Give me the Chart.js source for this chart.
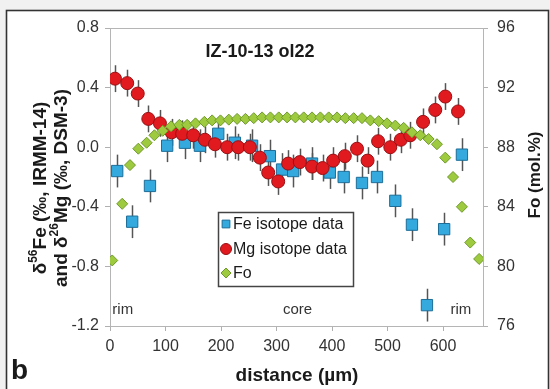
<!DOCTYPE html>
<html><head><meta charset="utf-8">
<script src="https://cdn.jsdelivr.net/npm/chart.js@4/dist/chart.umd.min.js"></script>
<style>html,body{margin:0;padding:0;background:#fff}#wrap{width:550px;height:389px;position:relative}</style>
</head><body><div id="wrap"><canvas id="c" width="550" height="389"></canvas></div>
<script>
// ---- data ----
const feDist = [13, 40, 72, 103, 135, 162, 195, 225, 256, 288, 310, 330, 364, 396, 421, 454, 481, 514, 544, 571, 602, 634];
const feVal  = [-0.16, -0.50, -0.26, 0.01, 0.03, 0.01, 0.09, 0.03, 0.01, -0.06, -0.15, -0.16, -0.11, -0.17, -0.20, -0.24, -0.20, -0.36, -0.52, -1.06, -0.55, -0.05];
const feErr  = 0.11;

const mgDist = [9, 31, 50, 69, 90, 111, 130, 150, 171, 189, 211, 231, 252, 270, 285, 303, 321, 342, 364, 383, 402, 423, 445, 464, 483, 505, 524, 541, 564, 586, 604, 627];
const mgVal  = [0.46, 0.43, 0.36, 0.19, 0.16, 0.10, 0.09, 0.08, 0.05, 0.02, 0.0, 0.0, 0.0, -0.07, -0.17, -0.23, -0.11, -0.10, -0.13, -0.14, -0.09, -0.06, -0.01, -0.09, 0.04, 0.0, 0.05, 0.08, 0.17, 0.25, 0.34, 0.24];
const mgErr  = 0.09;

const foDist = [4, 22, 36, 51, 66, 80, 95, 110, 125, 139, 154, 170, 184, 199, 214, 229, 244, 259, 274, 289, 304, 319, 334, 349, 364, 379, 394, 409, 424, 439, 454, 469, 484, 499, 514, 529, 544, 559, 574, 589, 604, 618, 634, 649, 665];
const foVal  = [80.4, 84.2, 86.8, 87.9, 88.3, 88.8, 89.1, 89.4, 89.5, 89.5, 89.6, 89.7, 89.8, 89.8, 89.85, 89.9, 89.9, 89.95, 90.0, 90.0, 90.0, 90.0, 90.0, 90.0, 90.0, 90.0, 90.0, 90.0, 89.95, 89.95, 89.95, 89.8, 89.75, 89.6, 89.45, 89.3, 89.0, 88.8, 88.55, 88.2, 87.3, 86.0, 84.0, 81.6, 80.5];

const xTicks  = [0, 100, 200, 300, 400, 500, 600];
const seriesNames = ['Fe isotope data', 'Mg isotope data', 'Fo'];
const chartTitle = 'IZ-10-13 ol22';
const zoneLabels = [['rim', 23], ['core', 338], ['rim', 632]];

// ---- styling ----
const FONT = '"Liberation Sans", Arial, Helvetica, sans-serif';
const C_BLUE = '#33a9dd', C_BLUE_B = '#1d6d98';
const C_RED = '#e11a1f', C_RED_B = '#9a1014';
const C_GREEN = '#9dca3e', C_GREEN_B = '#6f9a2a';

const pts = (xs, ys) => xs.map((x, i) => ({x, y: ys[i]}));

const errorBars = {
  id: 'errorBars',
  beforeDatasetsDraw(chart) {
    const {ctx} = chart, xs = chart.scales.x, ys = chart.scales.y;
    ctx.save();
    ctx.strokeStyle = '#555';
    ctx.lineWidth = 1.5;
    const draw = (d, v, e) => {
      d.forEach((x, i) => {
        const px = Math.round(xs.getPixelForValue(x)) + 0.5;
        ctx.beginPath();
        ctx.moveTo(px, ys.getPixelForValue(v[i] + e));
        ctx.lineTo(px, ys.getPixelForValue(v[i] - e));
        ctx.stroke();
      });
    };
    draw(feDist, feVal, feErr);
    draw(mgDist, mgVal, mgErr);
    ctx.restore();
  }
};

function richText(ctx, parts, cx, cy, size) {
  let total = 0;
  const fonts = parts.map(([t, sup]) => `bold ${sup ? Math.round(size * 0.62) : size}px ${FONT}`);
  parts.forEach(([t], i) => { ctx.font = fonts[i]; total += ctx.measureText(t).width; });
  let x = cx - total / 2;
  parts.forEach(([t, sup], i) => {
    ctx.font = fonts[i];
    ctx.fillText(t, x, cy + (sup ? -size * 0.38 : 0));
    x += ctx.measureText(t).width;
  });
}

const decor = {
  id: 'decor',
  beforeDraw(chart) {
    const {ctx, width, height} = chart;
    ctx.save();
    ctx.fillStyle = '#f1f1f1';
    ctx.fillRect(0, 0, width, height);
    ctx.fillStyle = '#ffffff';
    ctx.fillRect(7, 11, width - 9, height);
    ctx.strokeStyle = '#333';
    ctx.lineWidth = 1.6;
    ctx.strokeRect(6.5, 10.5, width - 8, height + 10);
    ctx.restore();
  },
  beforeDatasetsDraw(chart) {
    const {ctx, chartArea: a} = chart;
    ctx.save();
    ctx.strokeStyle = '#b5b5b5';
    ctx.lineWidth = 1;
    ctx.strokeRect(a.left + 0.5, a.top + 0.5, a.right - a.left, a.bottom - a.top);
    ctx.restore();
  },
  afterDraw(chart) {
    const {ctx} = chart;
    const xs = chart.scales.x;
    ctx.save();
    ctx.fillStyle = '#1a1a1a';
    ctx.textBaseline = 'middle';
    ctx.textAlign = 'center';
    ctx.font = `bold 18px ${FONT}`;
    ctx.fillText(chartTitle, 260, 52);
    ctx.font = `15px ${FONT}`;
    ctx.fillStyle = '#333';
    zoneLabels.forEach(([t, x]) => ctx.fillText(t, xs.getPixelForValue(x), 310));
    ctx.fillStyle = '#1a1a1a';
    ctx.font = `bold 19px ${FONT}`;
    ctx.fillText('distance (µm)', 297, 376);
    ctx.font = `bold 28px ${FONT}`;
    ctx.textAlign = 'left';
    ctx.fillText('b', 11, 371);
    ctx.save();
    ctx.translate(535, 175);
    ctx.rotate(-Math.PI / 2);
    ctx.textAlign = 'center';
    ctx.font = `bold 17px ${FONT}`;
    ctx.fillText('Fo (mol.%)', 0, 0);
    ctx.restore();
    ctx.save();
    ctx.rotate(-Math.PI / 2);
    ctx.textAlign = 'left';
    richText(ctx, [['δ', false], ['56', true], ['Fe (‰, IRMM-14)', false]], -188, 41, 19);
    richText(ctx, [['and δ', false], ['26', true], ['Mg (‰, DSM-3)', false]], -188, 62, 19);
    ctx.restore();
    // legend
    const lx = 218, ly = 212, lw = 135, lh = 74;
    ctx.fillStyle = '#fff';
    ctx.fillRect(lx, ly, lw, lh);
    ctx.strokeStyle = '#444';
    ctx.lineWidth = 1.5;
    ctx.strokeRect(lx + 0.5, ly + 0.5, lw, lh);
    const styles = [
      {pointStyle: 'rect', radius: 5.5, backgroundColor: C_BLUE, borderColor: C_BLUE_B, borderWidth: 1},
      {pointStyle: 'circle', radius: 5.5, backgroundColor: C_RED, borderColor: C_RED_B, borderWidth: 1},
      {pointStyle: 'rectRot', radius: 5, backgroundColor: C_GREEN, borderColor: C_GREEN_B, borderWidth: 1}
    ];
    const rows = [224, 249, 273];
    ctx.font = `16px ${FONT}`;
    ctx.textAlign = 'left';
    seriesNames.forEach((n, i) => {
      ctx.fillStyle = styles[i].backgroundColor;
      ctx.strokeStyle = styles[i].borderColor;
      ctx.lineWidth = 1;
      Chart.helpers.drawPoint(ctx, styles[i], 226, rows[i]);
      ctx.fillStyle = '#1a1a1a';
      ctx.fillText(n, 233, rows[i] + 1);
    });
    ctx.restore();
  }
};

const tickFont = {family: FONT, size: 16};
new Chart(document.getElementById('c'), {
  type: 'scatter',
  data: {
    datasets: [
      {label: seriesNames[2], data: pts(foDist, foVal), yAxisID: 'y2', pointStyle: 'rectRot', pointRadius: 5.5,
       backgroundColor: C_GREEN, borderColor: C_GREEN_B, borderWidth: 1, order: 0},
      {label: seriesNames[1], data: pts(mgDist, mgVal), yAxisID: 'y', pointStyle: 'circle', pointRadius: 6.5,
       backgroundColor: C_RED, borderColor: C_RED_B, borderWidth: 1, order: 1},
      {label: seriesNames[0], data: pts(feDist, feVal), yAxisID: 'y', pointStyle: 'rect', pointRadius: 8,
       backgroundColor: C_BLUE, borderColor: C_BLUE_B, borderWidth: 1, order: 2}
    ]
  },
  options: {
    responsive: false,
    devicePixelRatio: 1,
    animation: false,
    layout: {padding: {top: 28, left: 0, right: 0, bottom: 0}},
    plugins: {legend: {display: false}, tooltip: {enabled: false}, title: {display: false}},
    scales: {
      x: {
        type: 'linear', min: 0, max: 672,
        afterBuildTicks: s => { s.ticks = xTicks.map(v => ({value: v})); },
        afterFit: s => { s.height = 63; },
        grid: {drawOnChartArea: false, drawTicks: true, tickLength: 5, color: '#b0b0b0'},
        border: {color: '#b0b0b0'},
        ticks: {font: tickFont, color: '#333', padding: 6, maxRotation: 0}
      },
      y: {
        type: 'linear', position: 'left', min: -1.2, max: 0.8,
        afterFit: s => { s.width = 110; },
        grid: {drawOnChartArea: false, drawTicks: true, tickLength: 5, color: '#b0b0b0'},
        border: {color: '#b0b0b0'},
        ticks: {stepSize: 0.4, font: tickFont, color: '#333', padding: 6,
                callback: v => (Math.abs(v) < 1e-9 ? 0 : v).toFixed(1)}
      },
      y2: {
        type: 'linear', position: 'right', min: 76, max: 96,
        afterFit: s => { s.width = 67; },
        grid: {drawOnChartArea: false, drawTicks: true, tickLength: 5, color: '#b0b0b0'},
        border: {color: '#b0b0b0'},
        ticks: {stepSize: 4, font: tickFont, color: '#333', padding: 9}
      }
    }
  },
  plugins: [decor, errorBars]
});
</script>
</body></html>
